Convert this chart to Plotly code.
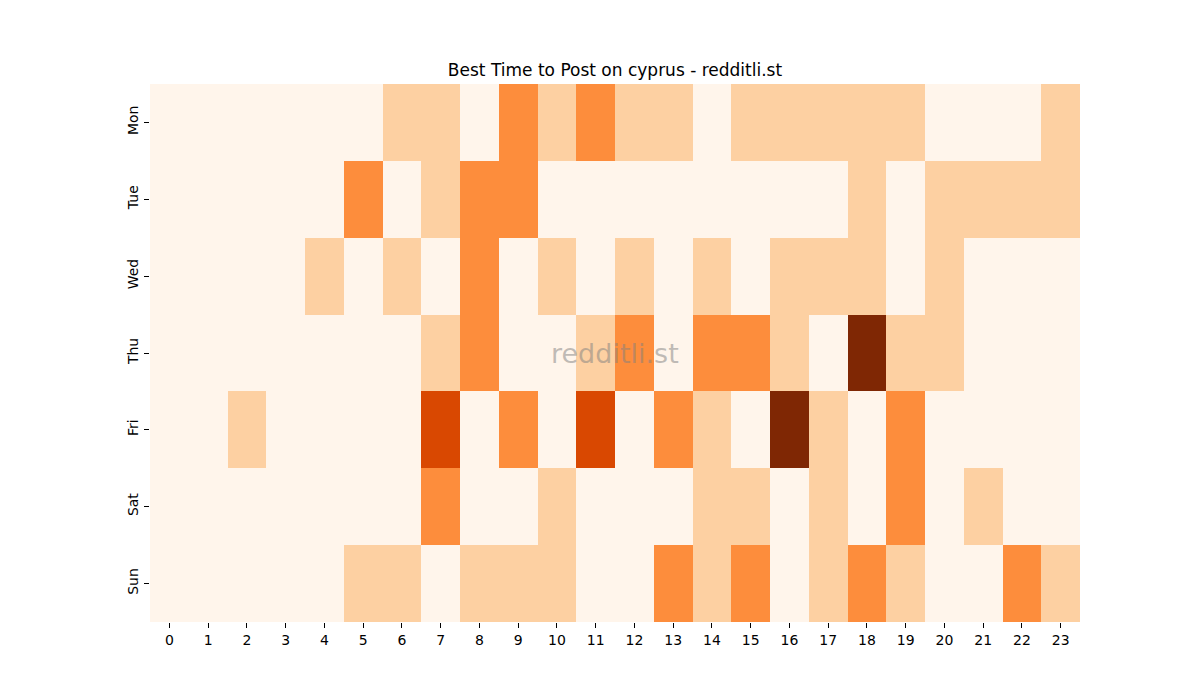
import plotly.graph_objects as go

days = ["Mon", "Tue", "Wed", "Thu", "Fri", "Sat", "Sun"]
hours = list(range(24))

mon = [0, 0, 0, 0, 0, 0, 1, 1, 0, 2, 1, 2, 1, 1, 0, 1, 1, 1, 1, 1, 0, 0, 0, 1]
tue = [0, 0, 0, 0, 0, 2, 0, 1, 2, 2, 0, 0, 0, 0, 0, 0, 0, 0, 1, 0, 1, 1, 1, 1]
wed = [0, 0, 0, 0, 1, 0, 1, 0, 2, 0, 1, 0, 1, 0, 1, 0, 1, 1, 1, 0, 1, 0, 0, 0]
thu = [0, 0, 0, 0, 0, 0, 0, 1, 2, 0, 0, 1, 2, 0, 2, 2, 1, 0, 4, 1, 1, 0, 0, 0]
fri = [0, 0, 1, 0, 0, 0, 0, 3, 0, 2, 0, 3, 0, 2, 1, 0, 4, 1, 0, 2, 0, 0, 0, 0]
sat = [0, 0, 0, 0, 0, 0, 0, 2, 0, 0, 1, 0, 0, 0, 1, 1, 0, 1, 0, 2, 0, 1, 0, 0]
sun = [0, 0, 0, 0, 0, 1, 1, 0, 1, 1, 1, 0, 0, 2, 1, 2, 0, 1, 2, 1, 0, 0, 2, 1]

z = [mon, tue, wed, thu, fri, sat, sun]

oranges = [
    [0.0, "#fff5eb"],
    [0.25, "#fdd0a2"],
    [0.5, "#fd8d3c"],
    [0.75, "#d94801"],
    [1.0, "#7f2704"],
]

fig = go.Figure(go.Heatmap(
    z=z, x=hours, y=days,
    colorscale=oranges, zmin=0, zmax=4,
    showscale=False, xgap=0, ygap=0,
))

# page is drawn with an 8px offset, so the margins are shifted to compensate
fig.update_layout(
    width=1200, height=700,
    paper_bgcolor="white", plot_bgcolor="white",
    margin=dict(l=142, r=128, t=76, b=86),
    font=dict(family="DejaVu Sans", size=14, color="black"),
    title=dict(text="Best Time to Post on cyprus - redditli.st",
               x=(615 - 8) / 1200, xanchor="center", y=1 - 62 / 700, yanchor="middle",
               font=dict(size=17)),
)
fig.update_xaxes(tickmode="array", tickvals=hours, ticktext=[str(h) for h in hours],
                 ticks="outside", ticklen=5, tickcolor="black", showgrid=False,
                 zeroline=False, showline=False)
fig.update_yaxes(autorange="reversed", ticks="outside", ticklen=5, tickcolor="black",
                 tickangle=-90, showgrid=False, zeroline=False, showline=False)

fig.add_annotation(text="redditli.st", x=0.5, y=0.5, xref="paper", yref="paper",
                   showarrow=False, font=dict(size=27, color="rgba(128,128,128,0.5)"))

fig.write_html("out.html")
